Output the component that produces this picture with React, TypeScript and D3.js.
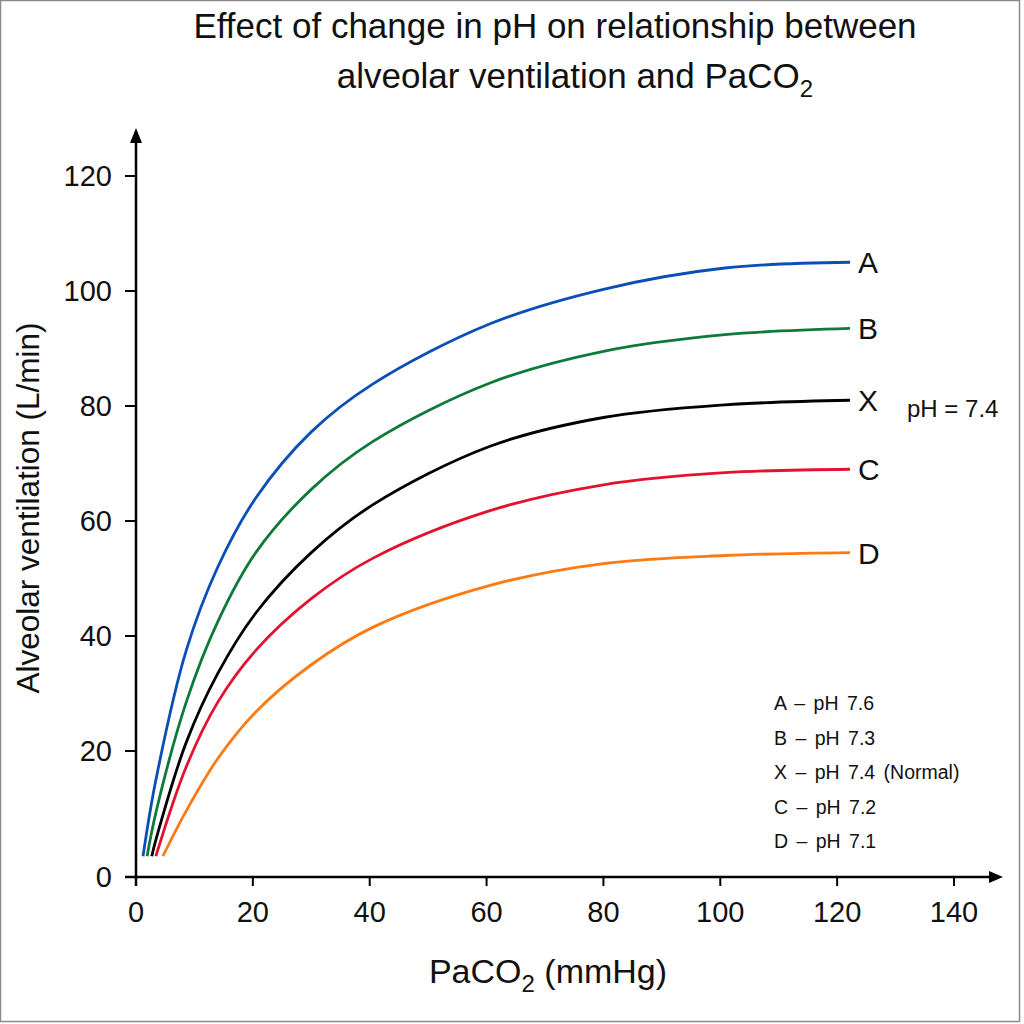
import React from "react";
import * as d3 from "d3";

const xTicks = [0, 20, 40, 60, 80, 100, 120, 140];
const yTicks = [0, 20, 40, 60, 80, 100, 120];

const seriesNames = ["A", "B", "X", "C", "D"];
const seriesColors = ["#0a4fb5", "#0e7a3a", "#000000", "#e3122f", "#ff7a12"];

const paco2A = [1.2, 3.4, 8.6, 14, 20.5, 30, 40.5, 60.6, 80, 100.8, 122.2];
const ventA = [3.3, 15.4, 37.5, 52.0, 64.0, 75.5, 83.8, 94.3, 100.3, 104.0, 105.0];

const paco2B = [1.9, 3.4, 8.6, 14, 20.5, 30, 40.5, 60.6, 80, 100.8, 122.2];
const ventB = [3.3, 10.2, 28.5, 42.5, 54.5, 65.5, 73.8, 84.0, 89.5, 92.4, 93.5];

const paco2X = [2.7, 3.4, 8.6, 14, 20.5, 30, 40.5, 60.6, 80, 100.8, 122.2];
const ventX = [3.3, 5.9, 21.5, 33.5, 44.0, 54.5, 62.8, 73.0, 78.0, 80.2, 81.0];

const paco2C = [3.4, 8.6, 14, 20.5, 30, 40.5, 60.6, 80, 100.8, 122.2];
const ventC = [3.3, 17.5, 28.5, 37.5, 46.5, 53.5, 61.8, 66.3, 68.4, 69.0];

const paco2D = [4.6, 8.6, 14, 20.5, 30, 40.5, 60.6, 80, 100.8, 122.2];
const ventD = [3.3, 10.5, 18.8, 26.8, 35.0, 41.5, 48.8, 52.6, 54.0, 54.5];

const legendLines = [
  "A – pH 7.6",
  "B – pH 7.3",
  "X – pH 7.4 (Normal)",
  "C – pH 7.2",
  "D – pH 7.1",
];

const FONT = "'Liberation Sans', Arial, Helvetica, sans-serif";

export default function App() {
  const x = d3.scaleLinear().domain([0, 140]).range([136, 954]);
  const y = d3.scaleLinear().domain([0, 20, 120]).range([877, 751, 176]);

  const xs = [paco2A, paco2B, paco2X, paco2C, paco2D];
  const vs = [ventA, ventB, ventX, ventC, ventD];

  const line = d3
    .line<[number, number]>()
    .x((d) => x(d[0]))
    .y((d) => y(d[1]))
    .curve(d3.curveCatmullRom.alpha(0.5));

  const axisY = 877;
  const axisX = 136;

  return (
    <svg
      width={1024}
      height={1024}
      style={{ position: "absolute", left: 0, top: 0, display: "block", background: "#fff" }}
      fontFamily={FONT}
    >
      <rect x={0} y={0} width={1024} height={1024} fill="#fff" />
      <rect x={0.5} y={0.5} width={1019} height={1021} fill="none" stroke="#8a8a8a" strokeWidth={1.5} />

      {/* Title */}
      <text x={555} y={38} fontSize={35} textAnchor="middle" fill="#111">
        Effect of change in pH on relationship between
      </text>
      <text x={575} y={88} fontSize={35} textAnchor="middle" fill="#111">
        alveolar ventilation and PaCO
        <tspan fontSize={24} dy={9}>2</tspan>
      </text>

      {/* Axes */}
      <line x1={125} x2={992} y1={axisY} y2={axisY} stroke="#000" strokeWidth={2.5} />
      <path d={`M1003,${axisY} L989,${axisY - 6} L989,${axisY + 6} Z`} fill="#000" />
      <line x1={axisX} x2={axisX} y1={886} y2={140} stroke="#000" strokeWidth={2.5} />
      <path d={`M${axisX},128 L${axisX - 6},143 L${axisX + 6},143 Z`} fill="#000" />

      {xTicks.map((t) => (
        <g key={"xt" + t}>
          <line x1={x(t)} x2={x(t)} y1={axisY} y2={axisY + 9} stroke="#000" strokeWidth={2} />
          <text x={x(t)} y={922} fontSize={29} textAnchor="middle" fill="#111">
            {t}
          </text>
        </g>
      ))}
      {yTicks.map((t) => (
        <g key={"yt" + t}>
          <line x1={125} x2={axisX} y1={y(t)} y2={y(t)} stroke="#000" strokeWidth={2} />
          <text x={112} y={y(t) + 10} fontSize={29} textAnchor="end" fill="#111">
            {t}
          </text>
        </g>
      ))}

      {/* Axis titles */}
      <text x={548} y={983} fontSize={34} textAnchor="middle" fill="#111">
        PaCO<tspan fontSize={24} dy={9}>2</tspan>
        <tspan dy={-9}> (mmHg)</tspan>
      </text>
      <text
        transform={`translate(39,508) rotate(-90)`}
        fontSize={31.5}
        textAnchor="middle"
        fill="#111"
      >
        Alveolar ventilation (L/min)
      </text>

      {/* Curves */}
      {seriesNames.map((name, i) => {
        const pts: [number, number][] = xs[i].map((xv, j) => [xv, vs[i][j]]);
        const last = pts[pts.length - 1];
        return (
          <g key={name}>
            <path d={line(pts) || ""} fill="none" stroke={seriesColors[i]} strokeWidth={2.8} />
            <text x={858} y={y(last[1]) + 11} fontSize={30} fill="#111">
              {name}
            </text>
          </g>
        );
      })}

      <text x={907} y={417} fontSize={24} fill="#111">
        pH = 7.4
      </text>

      {/* Legend */}
      {legendLines.map((l, i) => (
        <text key={l} x={774} y={710 + i * 34.5} fontSize={19.5} wordSpacing={3} fill="#111">
          {l}
        </text>
      ))}
    </svg>
  );
}
